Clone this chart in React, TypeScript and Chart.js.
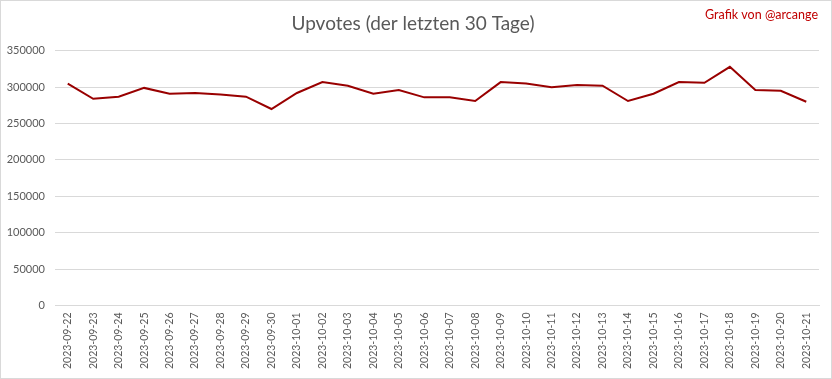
import React, { useEffect, useRef } from "react";
import { Chart, registerables } from "chart.js";

Chart.register(...registerables);

const dates: string[] = [
  "2023-09-22", "2023-09-23", "2023-09-24", "2023-09-25", "2023-09-26", "2023-09-27",
  "2023-09-28", "2023-09-29", "2023-09-30", "2023-10-01", "2023-10-02", "2023-10-03",
  "2023-10-04", "2023-10-05", "2023-10-06", "2023-10-07", "2023-10-08", "2023-10-09",
  "2023-10-10", "2023-10-11", "2023-10-12", "2023-10-13", "2023-10-14", "2023-10-15",
  "2023-10-16", "2023-10-17", "2023-10-18", "2023-10-19", "2023-10-20", "2023-10-21",
];

const upvotes: number[] = [
  305000, 284000, 287000, 299000, 291000, 292000,
  290000, 287000, 270000, 292000, 307000, 302000,
  291000, 296000, 286000, 286000, 281000, 307000,
  305000, 300000, 303000, 302000, 281000, 291000,
  307000, 306000, 328000, 296000, 295000, 280000,
];

const titleText = "Upvotes (der letzten 30 Tage)";
const creditText = "Grafik von @arcange";

export default function App() {
  const ref = useRef<HTMLCanvasElement | null>(null);
  useEffect(() => {
    if (!ref.current) return;
    document.body.style.margin = "0";
    const credit = {
      id: "credit",
      afterDraw(chart: any) {
        const ctx = chart.ctx;
        ctx.save();
        ctx.font = "12.5px Lato";
        ctx.fillStyle = "#C00000";
        ctx.textAlign = "right";
        ctx.textBaseline = "top";
        ctx.fillText(creditText, chart.width - 13, 8);
        ctx.restore();
      },
    };
    const chart = new Chart(ref.current, {
      type: "line",
      data: {
        labels: dates,
        datasets: [
          {
            data: upvotes,
            borderColor: "#990000",
            borderWidth: 2,
            pointRadius: 0,
            tension: 0,
            fill: false,
          },
        ],
      },
      options: {
        animation: false,
        responsive: false,
        layout: { padding: { left: 6, right: 12, top: 0, bottom: 2 } },
        plugins: {
          legend: { display: false },
          tooltip: { enabled: false },
          title: {
            display: true,
            text: titleText,
            color: "#595959",
            font: { family: "Lato", size: 19, weight: "normal" },
            padding: { top: 11, bottom: 16 },
          },
        },
        scales: {
          x: {
            offset: true,
            grid: { display: false, drawTicks: false },
            border: { display: true, color: "#d9d9d9" },
            ticks: {
              color: "#595959",
              font: { family: "Lato", size: 10.5 },
              maxRotation: 90,
              minRotation: 90,
              autoSkip: false,
              padding: 7,
            },
          },
          y: {
            min: 0,
            max: 350000,
            afterFit: (scale: any) => {
              scale.width = 48;
            },
            grid: { color: "#d9d9d9", drawTicks: false },
            border: { display: false },
            ticks: {
              stepSize: 50000,
              color: "#595959",
              font: { family: "Lato", size: 11 },
              padding: 10,
              callback: (v: any) => String(v),
            },
          },
        },
      },
      plugins: [credit],
    });
    return () => chart.destroy();
  }, []);
  return (
    <div style={{ width: 830, height: 377, border: "1px solid #d9d9d9", background: "#fff" }}>
      <canvas ref={ref} width={830} height={377} />
    </div>
  );
}
